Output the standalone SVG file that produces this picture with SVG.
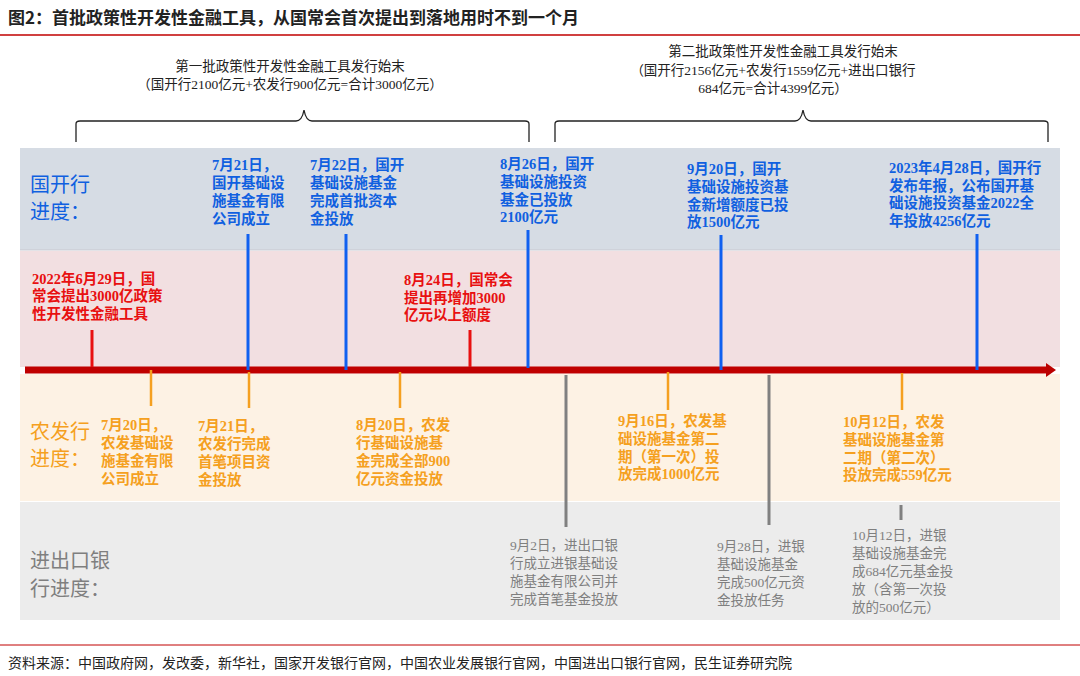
<svg xmlns="http://www.w3.org/2000/svg" width="1080" height="676" viewBox="0 0 1080 676">
<style>
text{font-family:"Liberation Serif","Noto Sans CJK SC",serif;font-weight:bold;font-size:14.5px}
.b{fill:#1060e0}.r{fill:#e81010}.o{fill:#f5a020}.g{fill:#7f7f7f}.k{fill:#222}
.g text{font-weight:normal;font-size:13.5px}
.lab{font-family:"Noto Sans CJK SC",sans-serif;font-weight:normal;font-size:20px}
.vb{stroke:#1060f0;stroke-width:3}.vr{stroke:#e81010;stroke-width:3}.vo{stroke:#f5a020;stroke-width:2.5}.vg{stroke:#808080;stroke-width:3}
.br{fill:none;stroke:#222;stroke-width:1.3}
</style>
<defs><marker id="ah" markerWidth="10" markerHeight="14" refX="2" refY="7" orient="auto" markerUnits="userSpaceOnUse"><path d="M0,0L10,7L0,14z" fill="#b00"/></marker></defs>
<text x="8" y="24" class="k" style="font-family:'Noto Sans CJK SC',sans-serif;font-size:17px">图2：首批政策性开发性金融工具，从国常会首次提出到落地用时不到一个月</text>
<line x1="0" y1="35" x2="1080" y2="35" stroke="#c00000" stroke-width="1.5"/>
<g id="brackets">
<text x="290" y="71" text-anchor="middle" class="k" style="font-weight:normal;font-size:13.5px">第一批政策性开发性金融工具发行始末</text>
<text x="290" y="89" text-anchor="middle" class="k" style="font-weight:normal;font-size:13.5px">（国开行2100亿元+农发行900亿元=合计3000亿元）</text>
<path class="br" d="M76,142 V124 Q76,121 80,121 H296 Q302,121 304,110 Q306,121 312,121 H525 Q529,121 529,124 V142"/>
<text x="783" y="56" text-anchor="middle" class="k" style="font-weight:normal;font-size:13.5px">第二批政策性开发性金融工具发行始末</text>
<text x="773" y="75" text-anchor="middle" class="k" style="font-weight:normal;font-size:13.5px">（国开行2156亿元+农发行1559亿元+进出口银行</text>
<text x="773" y="93" text-anchor="middle" class="k" style="font-weight:normal;font-size:13.5px">684亿元=合计4399亿元）</text>
<path class="br" d="M555,142 V124 Q555,121 559,121 H795 Q801,121 803,110 Q805,121 811,121 H1044 Q1048,121 1048,124 V142"/>
</g>
<g id="bands">
<rect x="20" y="148" width="1040" height="102" fill="#d6dce4"/>
<line x1="20" y1="250" x2="1060" y2="250" stroke="#c8c8d0"/>
<rect x="20" y="251" width="1040" height="116" fill="#f2dfe1"/>
<rect x="20" y="374" width="1040" height="127" fill="#fdf2e4"/>
<rect x="20" y="502" width="1040" height="118" fill="#ececec"/>
</g>
<g id="labels">
<text x="30" y="192" class="lab b">国开行</text><text x="30" y="219" class="lab b">进度：</text>
<text x="30" y="439" class="lab o">农发行</text><text x="30" y="466" class="lab o">进度：</text>
<text x="30" y="568" class="lab g">进出口银</text><text x="30" y="596" class="lab g">行进度：</text>
</g>
<g id="connectors">
<line x1="25" y1="370" x2="1048" y2="370" stroke="#c00000" stroke-width="7" marker-end="url(#ah)"/>
<line class="vb" x1="248" y1="234" x2="248" y2="370"/><line class="vb" x1="346" y1="234" x2="346" y2="370"/>
<line class="vb" x1="528" y1="230" x2="528" y2="368"/><line class="vb" x1="721" y1="235" x2="721" y2="370"/>
<line class="vb" x1="977" y1="234" x2="977" y2="370"/>
<line class="vr" x1="92" y1="330" x2="92" y2="367"/><line class="vr" x1="470" y1="330" x2="470" y2="367"/>
<line class="vo" x1="151" y1="370" x2="151" y2="406"/><line class="vo" x1="249" y1="372" x2="249" y2="408"/>
<line class="vo" x1="400" y1="372" x2="400" y2="408"/><line class="vo" x1="668" y1="372" x2="668" y2="410"/>
<line class="vo" x1="902" y1="373" x2="902" y2="410"/>
<line class="vg" x1="566" y1="375" x2="566" y2="527"/><line class="vg" x1="769" y1="375" x2="769" y2="525"/>
<line class="vg" x1="901" y1="505" x2="901" y2="520"/>
</g>
<g id="n1" class="b"><text x="212" y="170">7月21日，</text><text x="212" y="188">国开基础设</text><text x="212" y="206">施基金有限</text><text x="212" y="224">公司成立</text></g>
<g id="n2" class="b"><text x="310" y="170">7月22日，国开</text><text x="310" y="188">基础设施基金</text><text x="310" y="206">完成首批资本</text><text x="310" y="224">金投放</text></g>
<g id="n3" class="b"><text x="500" y="169">8月26日，国开</text><text x="500" y="187">基础设施投资</text><text x="500" y="205">基金已投放</text><text x="500" y="222">2100亿元</text></g>
<g id="n4" class="b"><text x="687" y="174">9月20日，国开</text><text x="687" y="192">基础设施投资基</text><text x="687" y="210">金新增额度已投</text><text x="687" y="227">放1500亿元</text></g>
<g id="n5" class="b"><text x="889" y="173">2023年4月28日，国开行</text><text x="889" y="191">发布年报，公布国开基</text><text x="889" y="208">础设施投资基金2022全</text><text x="889" y="226">年投放4256亿元</text></g>
<g id="n6" class="r"><text x="32" y="284">2022年6月29日，国</text><text x="32" y="301">常会提出3000亿政策</text><text x="32" y="319">性开发性金融工具</text></g>
<g id="n7" class="r"><text x="404" y="285">8月24日，国常会</text><text x="404" y="303">提出再增加3000</text><text x="404" y="320">亿元以上额度</text></g>
<g id="n8" class="o"><text x="101" y="430">7月20日，</text><text x="101" y="448">农发基础设</text><text x="101" y="466">施基金有限</text><text x="101" y="484">公司成立</text></g>
<g id="n9" class="o"><text x="198" y="431">7月21日，</text><text x="198" y="449">农发行完成</text><text x="198" y="467">首笔项目资</text><text x="198" y="485">金投放</text></g>
<g id="n10" class="o"><text x="356" y="430">8月20日，农发</text><text x="356" y="448">行基础设施基</text><text x="356" y="466">金完成全部900</text><text x="356" y="484">亿元资金投放</text></g>
<g id="n11" class="o"><text x="618" y="426">9月16日，农发基</text><text x="618" y="444">础设施基金第二</text><text x="618" y="462">期（第一次）投</text><text x="618" y="479">放完成1000亿元</text></g>
<g id="n12" class="o"><text x="843" y="427">10月12日，农发</text><text x="843" y="445">基础设施基金第</text><text x="843" y="463">二期（第二次）</text><text x="843" y="480">投放完成559亿元</text></g>
<g id="n13" class="g"><text x="510" y="550">9月2日，进出口银</text><text x="510" y="568">行成立进银基础设</text><text x="510" y="586">施基金有限公司并</text><text x="510" y="604">完成首笔基金投放</text></g>
<g id="n14" class="g"><text x="717" y="551">9月28日，进银</text><text x="717" y="569">基础设施基金</text><text x="717" y="587">完成500亿元资</text><text x="717" y="605">金投放任务</text></g>
<g id="n15" class="g"><text x="852" y="540">10月12日，进银</text><text x="852" y="558">基础设施基金完</text><text x="852" y="576">成684亿元基金投</text><text x="852" y="594">放（含第一次投</text><text x="852" y="612">放的500亿元）</text></g>
<line x1="0" y1="645" x2="1080" y2="645" stroke="#c00000" stroke-width="1"/>
<text x="8" y="668" class="k" style="font-family:'Noto Sans CJK SC',sans-serif;font-weight:normal;font-size:14px">资料来源：中国政府网，发改委，新华社，国家开发银行官网，中国农业发展银行官网，中国进出口银行官网，民生证券研究院</text>
</svg>
